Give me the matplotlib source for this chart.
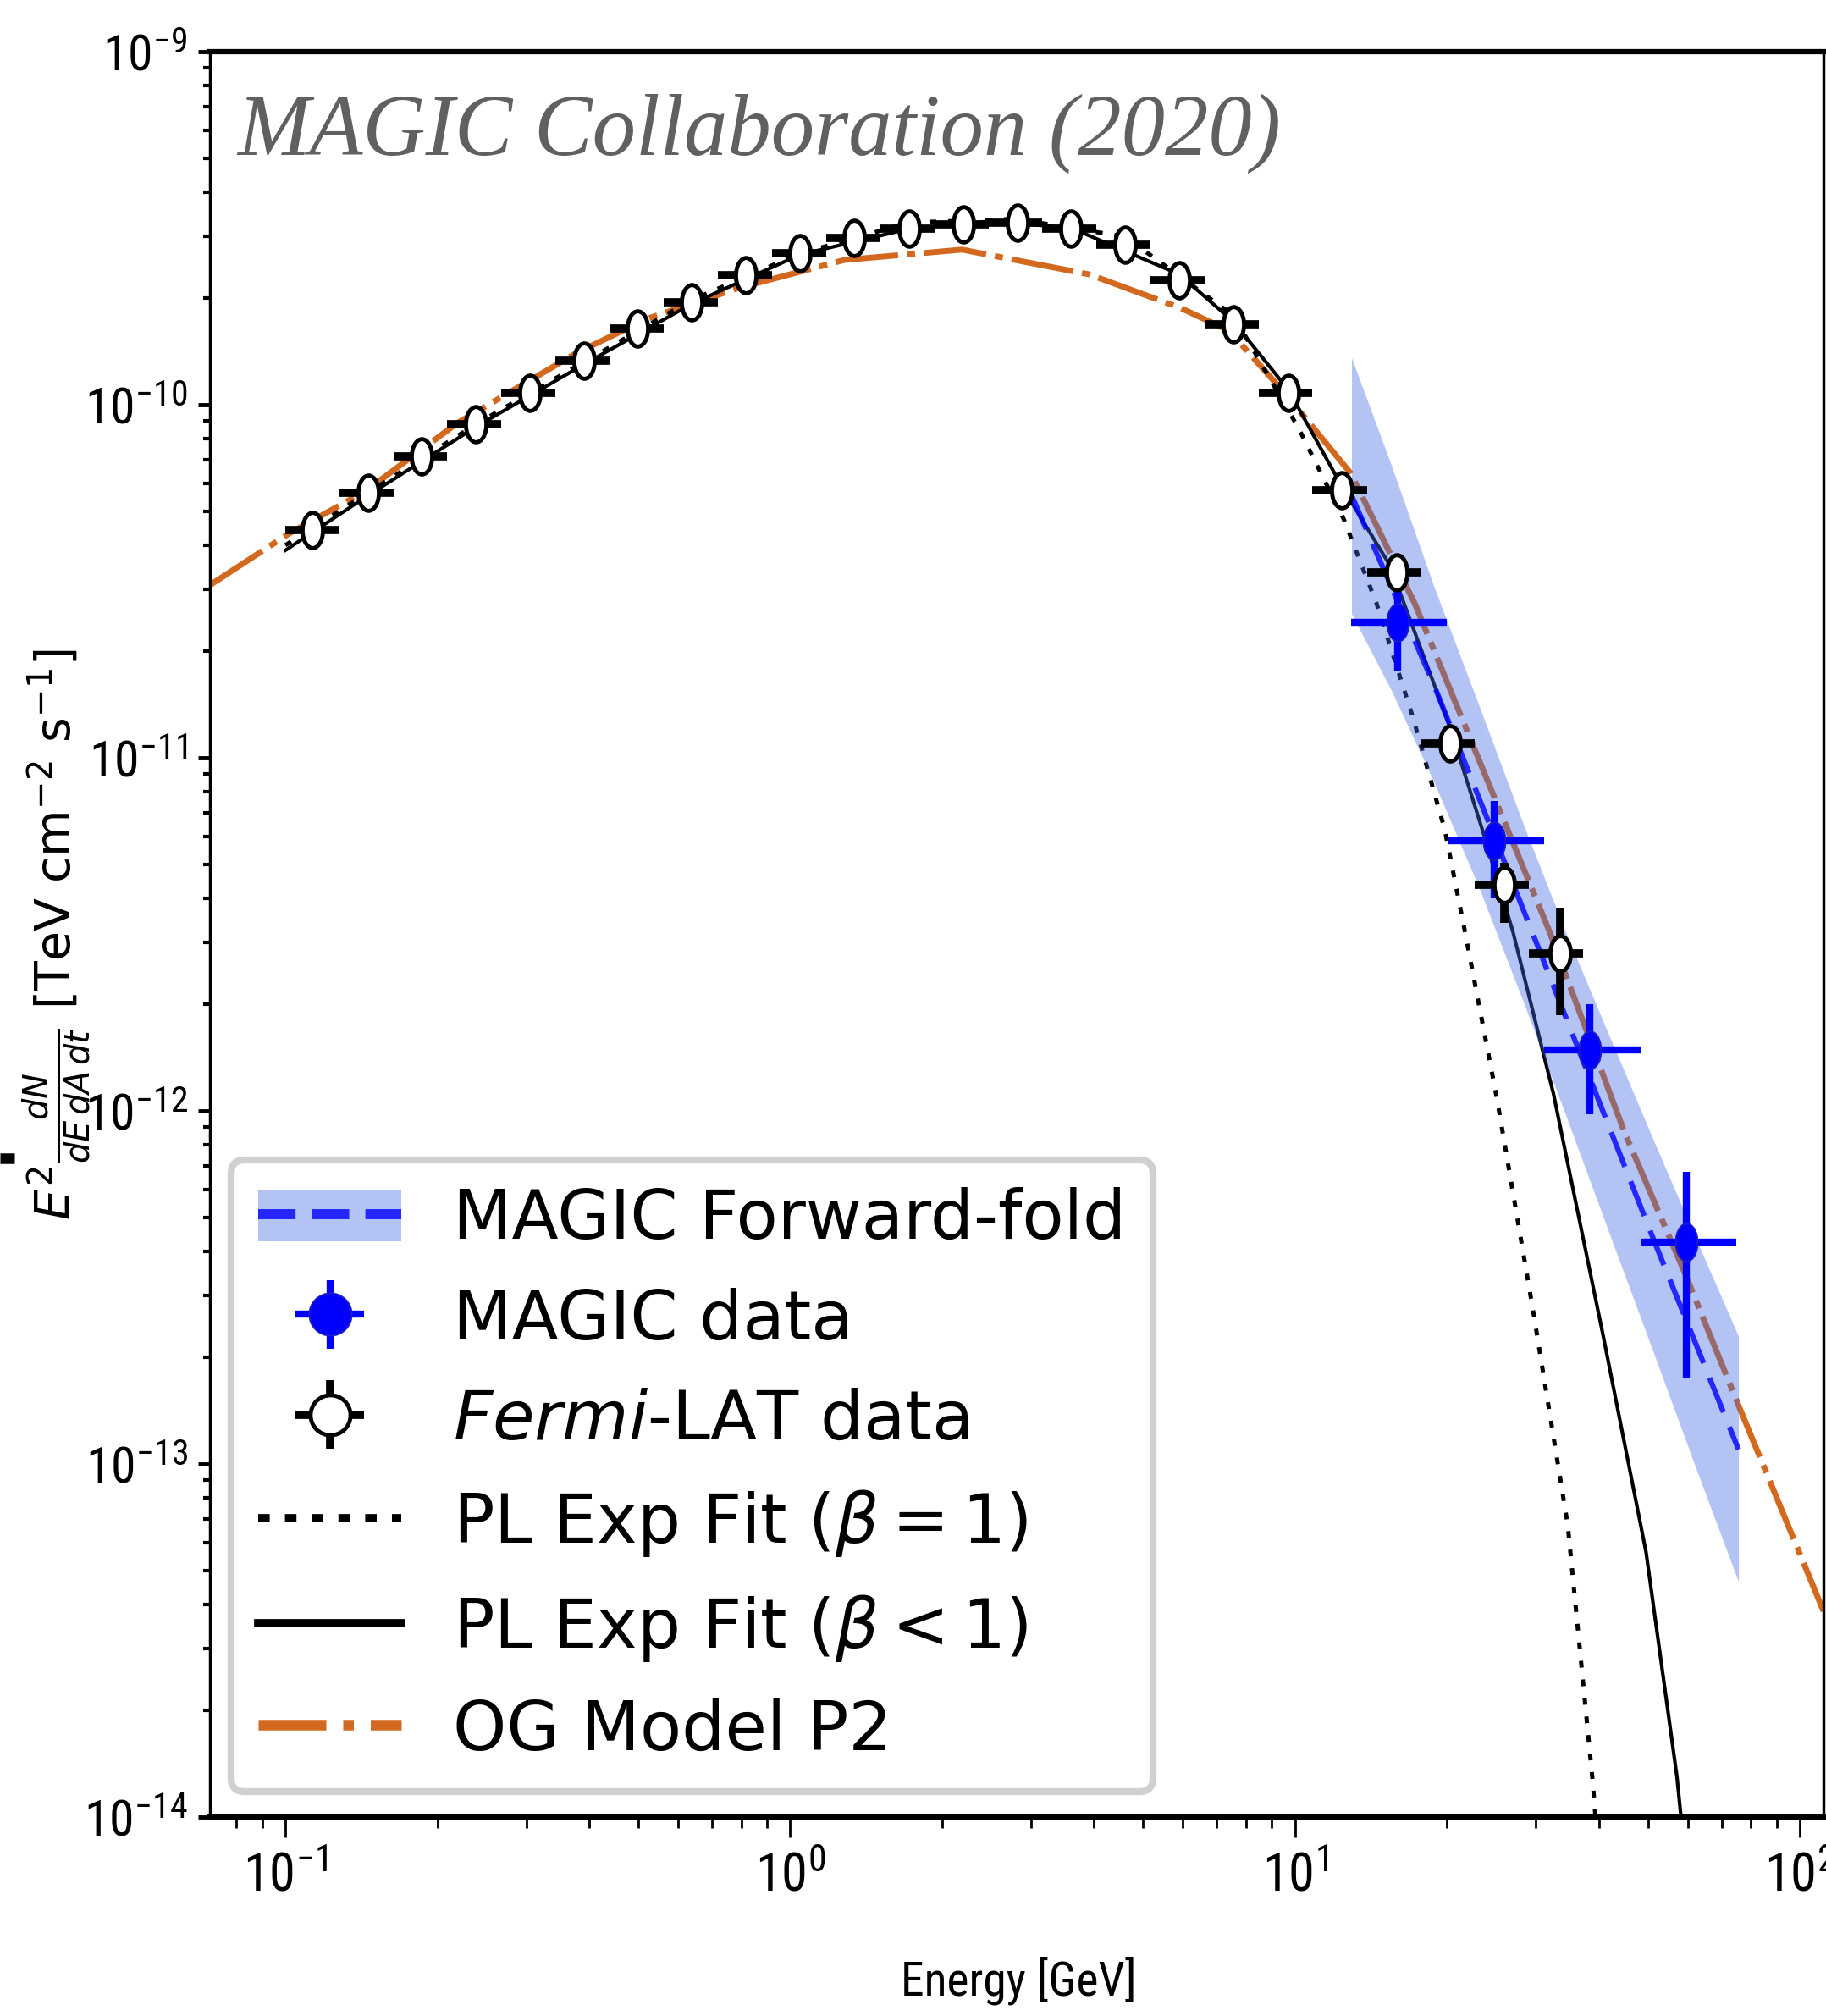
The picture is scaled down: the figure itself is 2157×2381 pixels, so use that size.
import matplotlib
matplotlib.use("Agg")
import matplotlib.pyplot as plt
from matplotlib import font_manager
from matplotlib.path import Path
from matplotlib.transforms import Affine2D
from matplotlib.lines import Line2D
from matplotlib.legend_handler import HandlerErrorbar, HandlerLine2D

# Fermi-LAT points (energy in GeV, E^2 dN/dE in TeV cm^-2 s^-1)
fermi_e = [0.113, 0.146, 0.186, 0.238, 0.305, 0.390, 0.499, 0.638, 0.817, 1.045,
           1.34, 1.72, 2.20, 2.82, 3.60, 4.61, 5.90, 7.55, 9.71, 12.4,
           15.9, 20.3, 26.0, 33.5]
fermi_e_lo = [0.100, 0.128, 0.164, 0.209, 0.268, 0.343, 0.439, 0.562, 0.719, 0.920,
              1.18, 1.51, 1.93, 2.47, 3.16, 4.04, 5.17, 6.62, 8.47, 10.8,
              13.9, 17.8, 22.7, 29.1]
fermi_e_hi = [0.128, 0.164, 0.209, 0.268, 0.343, 0.439, 0.562, 0.719, 0.920, 1.18,
              1.51, 1.93, 2.47, 3.16, 4.04, 5.17, 6.62, 8.47, 10.8, 13.9,
              17.8, 22.7, 29.1, 37.2]
fermi_f = [4.42e-11, 5.63e-11, 7.13e-11, 8.79e-11, 1.08e-10, 1.33e-10, 1.64e-10, 1.95e-10,
           2.33e-10, 2.68e-10, 2.96e-10, 3.15e-10, 3.25e-10, 3.28e-10, 3.15e-10, 2.84e-10,
           2.25e-10, 1.69e-10, 1.08e-10, 5.73e-11, 3.35e-11, 1.10e-11, 4.37e-12, 2.80e-12]
fermi_f_elo = [1.0e-12, 1.1e-12, 1.2e-12, 1.4e-12, 1.6e-12, 1.9e-12, 2.2e-12, 2.6e-12,
               3.0e-12, 3.5e-12, 3.9e-12, 4.3e-12, 4.6e-12, 4.9e-12, 5.0e-12, 5.0e-12,
               4.6e-12, 4.0e-12, 3.2e-12, 2.6e-12, 2.8e-12, 1.3e-12, 0.97e-12, 0.93e-12]
fermi_f_ehi = [1.0e-12, 1.1e-12, 1.2e-12, 1.4e-12, 1.6e-12, 1.9e-12, 2.2e-12, 2.6e-12,
               3.0e-12, 3.5e-12, 3.9e-12, 4.3e-12, 4.6e-12, 4.9e-12, 5.0e-12, 5.0e-12,
               4.6e-12, 4.0e-12, 3.2e-12, 2.6e-12, 2.8e-12, 1.3e-12, 0.66e-12, 0.96e-12]

# MAGIC points
magic_e = [16.0, 24.8, 38.3, 59.5]
magic_e_lo = [12.9, 20.1, 31.2, 48.4]
magic_e_hi = [20.0, 31.2, 48.4, 74.8]
magic_f = [2.42e-11, 5.81e-12, 1.49e-12, 4.25e-13]
magic_f_elo = [0.66e-11, 1.79e-12, 0.51e-12, 2.50e-13]
magic_f_ehi = [0.63e-11, 1.73e-12, 0.51e-12, 2.48e-13]

# MAGIC forward-folding band and best fit
band_e = [12.94, 15.53, 18.84, 23.13, 28.4, 34.3, 42.1, 51.1, 61.9, 75.6]
band_hi = [1.36e-10, 6.72e-11, 3.06e-11, 1.41e-11, 6.43e-12, 3.23e-12, 1.61e-12, 8.37e-13, 4.43e-13, 2.30e-13]
band_lo = [2.56e-11, 1.55e-11, 8.55e-12, 4.30e-12, 2.02e-12, 9.82e-13, 4.43e-13, 2.10e-13, 9.95e-14, 4.64e-14]
ff_e = [12.94, 18.84, 24.8, 34.3, 51.1, 75.6]
ff_f = [5.54e-11, 1.61e-11, 6.01e-12, 1.86e-12, 4.39e-13, 1.10e-13]

# PL with exponential cutoff, beta = 1
dot_e = [0.1, 0.238, 0.638, 1.045, 1.72, 2.80, 4.61, 7.55, 10.2, 12.5, 14.5, 17.1, 19.8,
         21.7, 25.1, 29.6, 34.7, 38.8, 39.9]
dot_f = [4.0e-11, 8.79e-11, 1.98e-10, 2.68e-10, 3.28e-10, 3.36e-10, 2.99e-10, 1.79e-10, 8.50e-11,
         4.73e-11, 2.74e-11, 1.31e-11, 6.26e-12, 3.23e-12, 1.09e-12, 2.74e-13, 6.71e-14,
         1.30e-14, 7.97e-15]

# PL with exponential cutoff, beta < 1
solid_e = [0.1, 0.146, 0.238, 0.390, 0.638, 1.045, 1.72, 2.49, 3.60, 5.90, 7.55, 9.71,
           12.5, 15.4, 20.2, 23.5, 27.0, 32.5, 40.8, 49.6, 57.1, 59.8]
solid_f = [3.87e-11, 5.54e-11, 8.64e-11, 1.30e-10, 1.93e-10, 2.66e-10, 3.15e-10, 3.31e-10,
           3.17e-10, 2.34e-10, 1.72e-10, 1.10e-10, 5.73e-11, 3.52e-11, 1.24e-11, 6.26e-12,
           3.23e-12, 1.12e-12, 2.30e-13, 5.62e-14, 1.30e-14, 6.74e-15]

# OG model P2
og_e = [0.0708, 0.1015, 0.144, 0.219, 0.377, 0.520, 0.789, 1.28, 2.19, 3.91, 5.93, 7.41,
        9.59, 12.9, 17.3, 23.1, 31.9, 44.9, 59.2, 75.7, 111.4]
og_f = [3.08e-11, 4.31e-11, 5.69e-11, 8.87e-11, 1.40e-10, 1.75e-10, 2.14e-10, 2.57e-10,
        2.75e-10, 2.34e-10, 1.88e-10, 1.62e-10, 1.07e-10, 6.39e-11, 2.72e-11, 9.93e-12,
        3.23e-12, 8.73e-13, 3.47e-13, 1.46e-13, 3.83e-14]

labels = ['MAGIC Forward-fold', 'MAGIC data', r'$\it{Fermi}$-LAT data',
          r'PL Exp Fit ($\beta = 1$)', r'PL Exp Fit ($\beta < 1$)', 'OG Model P2']

# narrow font for the tick labels / x label if one is installed
avail = {f.name for f in font_manager.fontManager.ttflist}
narrow = next((n for n in ['Liberation Sans Narrow', 'DejaVu Sans Condensed', 'Roboto Condensed']
               if n in avail), None)
if narrow is None:
    narrow, tick_fs, xlab_fs = 'DejaVu Sans', 36, 36
else:
    tick_fs, xlab_fs = 43, 40

fig = plt.figure(figsize=(21.57, 23.81), dpi=100)
ax = fig.add_axes([0.11498, 0.09870, 0.88364, 0.87568])
ax.set_xscale('log')
ax.set_yscale('log')

# elongated marker as in the picture
ell = Path.unit_circle().transformed(Affine2D().scale(0.58, 1.0))

h_og, = ax.plot(og_e, og_f, color='#d2691e', lw=5, ls=(0, (10.7, 1.5, 1.4, 1.5)), zorder=2)
h_dot, = ax.plot(dot_e, dot_f, color='k', lw=3.6, ls=(0, (1.6, 2.8)), zorder=2)
h_solid, = ax.plot(solid_e, solid_f, color='k', lw=3, zorder=2)

h_band = ax.fill_between(band_e, band_lo, band_hi, color='royalblue', alpha=0.4, lw=0, zorder=3)
h_dash, = ax.plot(ff_e, ff_f, color='blue', alpha=0.8, lw=4.5, ls=(0, (7, 3)), zorder=4)

xerr_m = [[e - lo for e, lo in zip(magic_e, magic_e_lo)], [hi - e for e, hi in zip(magic_e, magic_e_hi)]]
h_magic = ax.errorbar(magic_e, magic_f, xerr=xerr_m, yerr=[magic_f_elo, magic_f_ehi],
                      fmt='', marker=ell, ls='none', ms=32, mfc='blue', mec='#1a1acc', mew=1.5,
                      ecolor='blue', elinewidth=6, capsize=0, zorder=5)

xerr_f = [[e - lo for e, lo in zip(fermi_e, fermi_e_lo)], [hi - e for e, hi in zip(fermi_e, fermi_e_hi)]]
h_fermi = ax.errorbar(fermi_e, fermi_f, xerr=xerr_f, yerr=[fermi_f_elo, fermi_f_ehi],
                      fmt='', marker=ell, ls='none', ms=30, mfc='white', mec='k', mew=3.5,
                      ecolor='k', elinewidth=7, capsize=0, zorder=6)

ax.set_xlim(0.0709, 111.4)
ax.set_ylim(1e-14, 1e-9)

ax.tick_params(axis='x', which='major', direction='out', length=17, width=2, pad=12,
               labelsize=tick_fs + 2, labelfontfamily=narrow, top=False)
ax.tick_params(axis='x', which='minor', direction='out', length=9, width=2, top=False)
ax.tick_params(axis='y', which='major', direction='out', length=10, width=3.5, pad=9,
               labelsize=tick_fs, labelfontfamily=narrow, right=False)
ax.tick_params(axis='y', which='minor', direction='out', length=6, width=3, right=False)
for side, lw in [('top', 4.5), ('bottom', 5), ('left', 2.5), ('right', 2.5)]:
    ax.spines[side].set_linewidth(lw)

ax.set_xlabel('Energy [GeV]', fontsize=xlab_fs, family=narrow)
ax.xaxis.set_label_coords(0.501, -0.079)
ax.set_ylabel(r'$E^2\frac{dN}{dE\,dA\,dt}$ [TeV cm$^{-2}$ s$^{-1}$]', fontsize=41)
ax.yaxis.set_label_coords(-0.0725, 0.5)

ax.text(0.017, 0.9415, 'MAGIC Collaboration (2020)', transform=ax.transAxes,
        family='Liberation Serif', style='italic', fontsize=74, color='#606060', va='baseline')


def round_marker(size):
    def f(h, orig):
        h.update_from(orig)
        if isinstance(h, Line2D):
            h.set_marker('o')
            h.set_markersize(size)
    return f


def legend_line(lw, dashes=None):
    def f(h, orig):
        h.update_from(orig)
        h.set_linewidth(lw)
        if dashes is not None:
            h.set_dashes(dashes)
    return f


hmap = {
    h_magic: HandlerErrorbar(update_func=round_marker(36)),
    h_fermi: HandlerErrorbar(update_func=round_marker(34)),
    h_dash: HandlerLine2D(update_func=legend_line(8.6, (3.7, 1.6))),
    h_dot: HandlerLine2D(update_func=legend_line(7, (1.4, 1.85))),
    h_solid: HandlerLine2D(update_func=legend_line(7)),
    h_og: HandlerLine2D(update_func=legend_line(9, (6.4, 1.6, 1, 1.6))),
}
leg = ax.legend([(h_band, h_dash), h_magic, h_fermi, h_dot, h_solid, h_og], labels,
                loc='lower left', bbox_to_anchor=(0.013, 0.0144), borderaxespad=0,
                fontsize=58, handlelength=2.1, handleheight=0.8, handletextpad=0.75,
                labelspacing=0.5, borderpad=0.4, fancybox=True, framealpha=1,
                edgecolor='#d0d0d0', handler_map=hmap)
leg.get_frame().set_linewidth(6)

# small stray mark at the left edge of the picture
fig.add_artist(Line2D([0, 0.0079], [0.4255, 0.4255], transform=fig.transFigure, color='k',
                      lw=9, solid_capstyle='butt'))

fig.savefig('out.png', dpi=100)
